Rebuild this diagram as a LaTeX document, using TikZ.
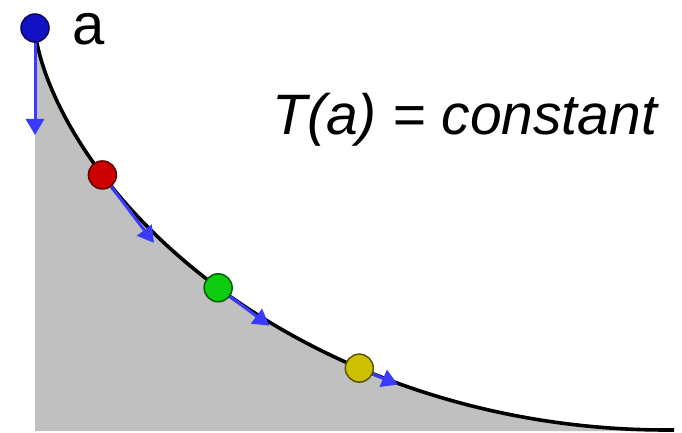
\documentclass[tikz,border=0pt]{standalone}
\usepackage{fontspec}
\setmainfont{Liberation Sans}
\usepackage{xcolor}
\definecolor{groundgrey}{HTML}{C0C0C0}
\definecolor{pullblue}{HTML}{3A3AFF}
\definecolor{ballblue}{HTML}{1212C4}
\definecolor{ballred}{HTML}{CC0000}
\definecolor{ballgreen}{HTML}{10CC10}
\definecolor{ballyellow}{HTML}{CCC000}
\usetikzlibrary{arrows.meta, positioning}

\tikzset{
  ball/.style={circle, fill=#1, draw=#1!45!black, line width=1.5pt,
               minimum size=28pt, inner sep=0pt},
  pull/.style={draw=pullblue, fill=pullblue, line width=3pt,
               -{Triangle[length=16pt, width=18pt]}},
  label text/.style={font=\fontsize{58}{60}\selectfont, inner sep=0pt}
}

\begin{document}
\begin{tikzpicture}[x=1pt, y=-1pt]
      \useasboundingbox (0,0) rectangle (682,433);
      % grey ground below the cycloid
      \fill[groundgrey] (35,431) -- plot[domain=0:180, samples=120, smooth]
        ({35+201*(rad(\x)-sin(\x))}, {28+201*(1-cos(\x))}) -- (674,430)
        -- (674,431) -- cycle;
      \draw[line width=3.6pt] plot[domain=0:180, samples=120, smooth]
        ({35+201*(rad(\x)-sin(\x))}, {28+201*(1-cos(\x))}) -- (674,430);
      % balls with their pull along the track
      \foreach \name/\t/\col in {
        top/0/ballblue,
        second/74.4/ballred,
        third/107/ballgreen,
        fourth/133.8/ballyellow}{
        \pgfmathsetmacro{\bx}{35+201*(rad(\t)-sin(\t))}
        \pgfmathsetmacro{\by}{28+201*(1-cos(\t))}
        \pgfmathsetmacro{\len}{107*cos(\t/2)}
        \coordinate (\name-pull) at ([shift={(\t/2-90:\len pt)}]\bx,\by);
        \draw[pull] (\bx,\by) -- (\name-pull);
        \node[ball=\col] (\name) at (\bx,\by) {};
      }
      \node[label text, anchor=base west] (start) at (72,45) {a};
      \node[label text, font=\fontsize{57}{60}\selectfont\itshape,
            anchor=base west] (law) at (272,135) {T(a) = constant};
    \end{tikzpicture}
\end{document}
